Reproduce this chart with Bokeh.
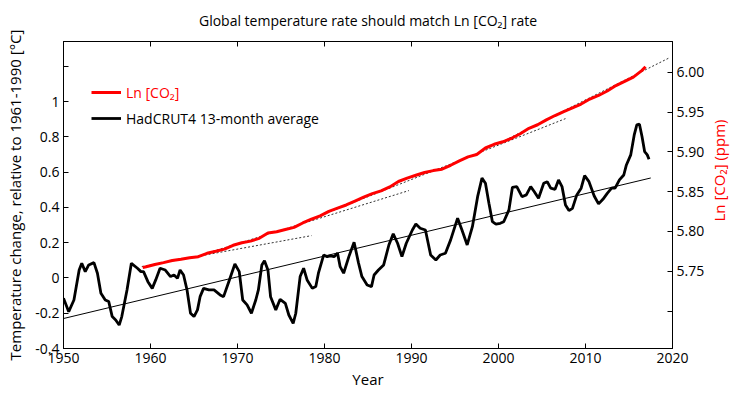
import math
from bokeh.plotting import figure
from bokeh.models import Range1d, LinearAxis, FixedTicker, Label, Legend, LegendItem
from bokeh.embed import file_html
from bokeh.resources import INLINE

# ---------------- data ----------------
title_text = "Global temperature rate should match Ln [CO\u2082] rate"
x_label = "Year"
left_label = "Temperature change, relative to 1961-1990 [\u00b0C]"
right_label = "Ln [CO\u2082] (ppm)"
co2_name = "Ln [CO\u2082]"
temp_name = "HadCRUT4 13-month average"

x_ticks = [1950, 1960, 1970, 1980, 1990, 2000, 2010, 2020]
left_ticks = [-0.4, -0.2, 0.0, 0.2, 0.4, 0.6, 0.8, 1.0, 1.2]
left_tick_labels = ["-0.4", "-0.2", "0", "0.2", "0.4", "0.6", "0.8", "1", ""]
right_ticks = [5.70, 5.75, 5.80, 5.85, 5.90, 5.95, 6.00]
right_tick_labels = ["", "5.75", "5.80", "5.85", "5.90", "5.95", "6.00"]

co2_years = [1959.1, 1959.5, 1960.5, 1961.5, 1962.5, 1963.5, 1964.5, 1965.5, 1966.5, 1967.5,
             1968.5, 1969.5, 1970.5, 1971.5, 1972.5, 1973.5, 1974.5, 1975.5, 1976.5, 1977.5,
             1978.5, 1979.5, 1980.5, 1981.5, 1982.5, 1983.5, 1984.5, 1985.5, 1986.5, 1987.5,
             1988.5, 1989.5, 1990.5, 1991.5, 1992.5, 1993.5, 1994.5, 1995.5, 1996.5, 1997.5,
             1998.5, 1999.5, 2000.5, 2001.5, 2002.5, 2003.5, 2004.5, 2005.5, 2006.5, 2007.5,
             2008.5, 2009.5, 2010.5, 2011.5, 2012.5, 2013.5, 2014.5, 2015.5, 2016.5, 2016.9]
co2_ln = [5.7546, 5.7557, 5.7586, 5.7609, 5.7635, 5.7652, 5.7671, 5.7684, 5.7726, 5.7751,
          5.7778, 5.7827, 5.7859, 5.7879, 5.7914, 5.7981, 5.7997, 5.8025, 5.8052, 5.8107,
          5.8154, 5.8196, 5.8253, 5.8293, 5.8333, 5.8382, 5.8431, 5.8475, 5.8511, 5.8560,
          5.8628, 5.8671, 5.8706, 5.8741, 5.8765, 5.8783, 5.8832, 5.8888, 5.8937, 5.8968,
          5.9049, 5.9096, 5.9127, 5.9171, 5.9228, 5.9296, 5.9341, 5.9402, 5.9457, 5.9507,
          5.9554, 5.9601, 5.9664, 5.9709, 5.9765, 5.9833, 5.9885, 5.9940, 6.0024, 6.0070]

temp_years = [1950.0, 1950.6, 1951.2, 1951.8, 1952.1, 1952.5, 1952.9, 1953.5, 1953.9, 1954.3,
              1954.8, 1955.2, 1955.6, 1956.0, 1956.4, 1956.7, 1957.3, 1957.8, 1958.5, 1958.9,
              1959.2, 1959.7, 1960.2, 1960.6, 1961.1, 1961.7, 1962.3, 1962.7, 1963.1, 1963.4,
              1963.8, 1964.2, 1964.6, 1965.0, 1965.4, 1965.7, 1966.1, 1966.7, 1967.3, 1968.0,
              1968.4, 1969.0, 1969.7, 1970.2, 1970.6, 1971.1, 1971.6, 1972.1, 1972.4, 1972.8,
              1973.1, 1973.5, 1973.8, 1974.4, 1974.9, 1975.5, 1975.9, 1976.4, 1976.7, 1977.2,
              1977.6, 1978.0, 1978.6, 1979.0, 1979.3, 1979.9, 1980.3, 1980.7, 1981.1, 1981.5,
              1981.8, 1982.2, 1982.8, 1983.4, 1983.9, 1984.3, 1984.9, 1985.4, 1985.7, 1986.2,
              1986.8, 1987.4, 1987.9, 1988.4, 1988.9, 1989.4, 1990.1, 1990.5, 1991.0, 1991.6,
              1992.2, 1992.8, 1993.3, 1993.9, 1994.5, 1995.3, 1995.8, 1996.4, 1997.0, 1997.6,
              1998.1, 1998.5, 1998.9, 1999.3, 1999.7, 2000.2, 2000.6, 2001.2, 2001.6, 2002.1,
              2002.7, 2003.2, 2003.7, 2004.1, 2004.6, 2005.2, 2005.6, 2006.0, 2006.5, 2006.9,
              2007.3, 2007.7, 2008.1, 2008.5, 2009.0, 2009.5, 2009.9, 2010.4, 2011.0, 2011.5,
              2012.0, 2012.5, 2013.0, 2013.4, 2013.9, 2014.4, 2014.7, 2015.2, 2015.6, 2015.9,
              2016.2, 2016.5, 2016.8, 2017.1, 2017.3]
temp_vals = [-0.115, -0.191, -0.125, 0.045, 0.083, 0.036, 0.074, 0.087, 0.027, -0.087,
             -0.125, -0.134, -0.219, -0.238, -0.267, -0.219, -0.068, 0.083, 0.055, 0.036,
             0.036, -0.021, -0.059, -0.011, 0.055, 0.045, 0.008, 0.017, -0.002, 0.045,
             0.017, -0.068, -0.200, -0.219, -0.181, -0.106, -0.059, -0.068, -0.068, -0.096,
             -0.106, -0.021, 0.079, 0.036, -0.125, -0.153, -0.200, -0.125, -0.068, 0.074,
             0.098, 0.045, -0.106, -0.181, -0.121, -0.144, -0.210, -0.257, -0.200, 0.008,
             0.055, -0.011, -0.059, -0.049, 0.027, 0.130, 0.121, 0.125, 0.121, 0.140,
             0.064, 0.027, 0.121, 0.203, 0.087, 0.008, -0.040, -0.049, 0.017, 0.045,
             0.074, 0.187, 0.250, 0.197, 0.121, 0.197, 0.272, 0.306, 0.282, 0.272,
             0.130, 0.102, 0.130, 0.140, 0.216, 0.339, 0.272, 0.187, 0.291, 0.461,
             0.566, 0.537, 0.424, 0.319, 0.305, 0.310, 0.319, 0.386, 0.514, 0.518,
             0.461, 0.471, 0.518, 0.490, 0.452, 0.537, 0.546, 0.509, 0.503, 0.556,
             0.518, 0.414, 0.382, 0.395, 0.471, 0.509, 0.580, 0.546, 0.465, 0.420,
             0.446, 0.480, 0.509, 0.509, 0.556, 0.584, 0.641, 0.698, 0.811, 0.868,
             0.872, 0.801, 0.716, 0.698, 0.673]

# linear trend of temperature (thin solid line)
trend_years = [1950.0, 2017.5]
trend_vals = [-0.23, 0.567]

# dotted Ln[CO2] trend segments (right-axis units)
dot_years = [[1959.0, 1978.5], [1965.0, 1989.7], [1978.0, 2007.7], [2000.0, 2019.6]]
dot_vals = [[5.7560, 5.7948], [5.7677, 5.8514], [5.8135, 5.9418], [5.9105, 6.0180]]

# ---------------- figure ----------------
FONT = "Open Sans"
RED = "#ff0000"

p = figure(width=740, height=395, output_backend="svg", toolbar_location=None,
           x_range=Range1d(1950, 2020), y_range=Range1d(-0.4, 1.341),
           min_border_left=63, min_border_right=68, min_border_top=41, min_border_bottom=47)
p.extra_y_ranges = {"co2": Range1d(5.653, 6.0387)}
p.grid.visible = False
p.outline_line_color = "black"
p.outline_line_width = 1
p.background_fill_color = "white"
p.border_fill_color = "white"

def style_axis(ax, ticks, labels=None, show_labels=True):
    ax.ticker = FixedTicker(ticks=ticks)
    ax.major_tick_in = 5
    ax.major_tick_out = 0
    ax.minor_tick_line_color = None
    ax.axis_line_color = "black"
    ax.major_tick_line_color = "black"
    ax.major_label_text_font = FONT
    ax.major_label_text_color = "black"
    ax.major_label_standoff = 4
    if show_labels:
        ax.major_label_text_font_size = "14px"
    else:
        ax.major_label_text_font_size = "0px"
        ax.major_label_standoff = 0
    if labels is not None:
        ax.major_label_overrides = {t: l for t, l in zip(ticks, labels)}
    ax.axis_label_text_font = FONT
    ax.axis_label_text_font_style = "normal"
    ax.axis_label_text_font_size = "15px"
    ax.axis_label_text_color = "black"

style_axis(p.xaxis[0], x_ticks, [str(t) for t in x_ticks])
p.xaxis[0].axis_label = x_label
p.xaxis[0].axis_label_standoff = 3
style_axis(p.yaxis[0], left_ticks, left_tick_labels)
p.yaxis[0].axis_label = left_label
p.yaxis[0].axis_label_standoff = 7

right_axis = LinearAxis(y_range_name="co2")
style_axis(right_axis, right_ticks, right_tick_labels)
p.add_layout(right_axis, "right")

top_axis = LinearAxis()
style_axis(top_axis, x_ticks, show_labels=False)
p.add_layout(top_axis, "above")

p.title.text = title_text
p.title.align = "center"
p.title.vertical_align = "top"
p.title.text_font = FONT
p.title.text_font_size = "14px"
p.title.text_font_style = "normal"
p.title.text_color = "black"
p.title.standoff = 20

# ---------------- glyphs ----------------
p.line(trend_years, trend_vals, line_color="black", line_width=1)
for xs, ys in zip(dot_years, dot_vals):
    p.line(xs, ys, y_range_name="co2", line_color="#333333", line_width=1, line_dash="2 2")
r_temp = p.line(temp_years, temp_vals, line_color="black", line_width=2.8)
r_co2 = p.line(co2_years, co2_ln, y_range_name="co2", line_color=RED, line_width=3)

# ---------------- legends ----------------
def make_legend(label, rend, color, loc):
    return Legend(items=[LegendItem(label=label, renderers=[rend])], location=loc,
                  border_line_alpha=0, background_fill_alpha=0, padding=0, margin=0,
                  glyph_width=30, glyph_height=20, label_height=20, label_standoff=5,
                  label_text_font=FONT, label_text_font_size="14px", label_text_color=color,
                  spacing=0)

p.add_layout(make_legend(co2_name, r_co2, RED, (28, 246)))
p.add_layout(make_legend(temp_name, r_temp, "black", (28, 220)))

# right-side axis title (red), reading bottom to top
p.add_layout(Label(x=11, y=178, x_units="screen", y_units="screen", text=right_label,
                   text_font=FONT, text_font_size="15px", text_align="center",
                   text_baseline="middle", text_color=RED, angle=math.pi / 2), "right")

open("out.html", "w").write(file_html(p, INLINE))
